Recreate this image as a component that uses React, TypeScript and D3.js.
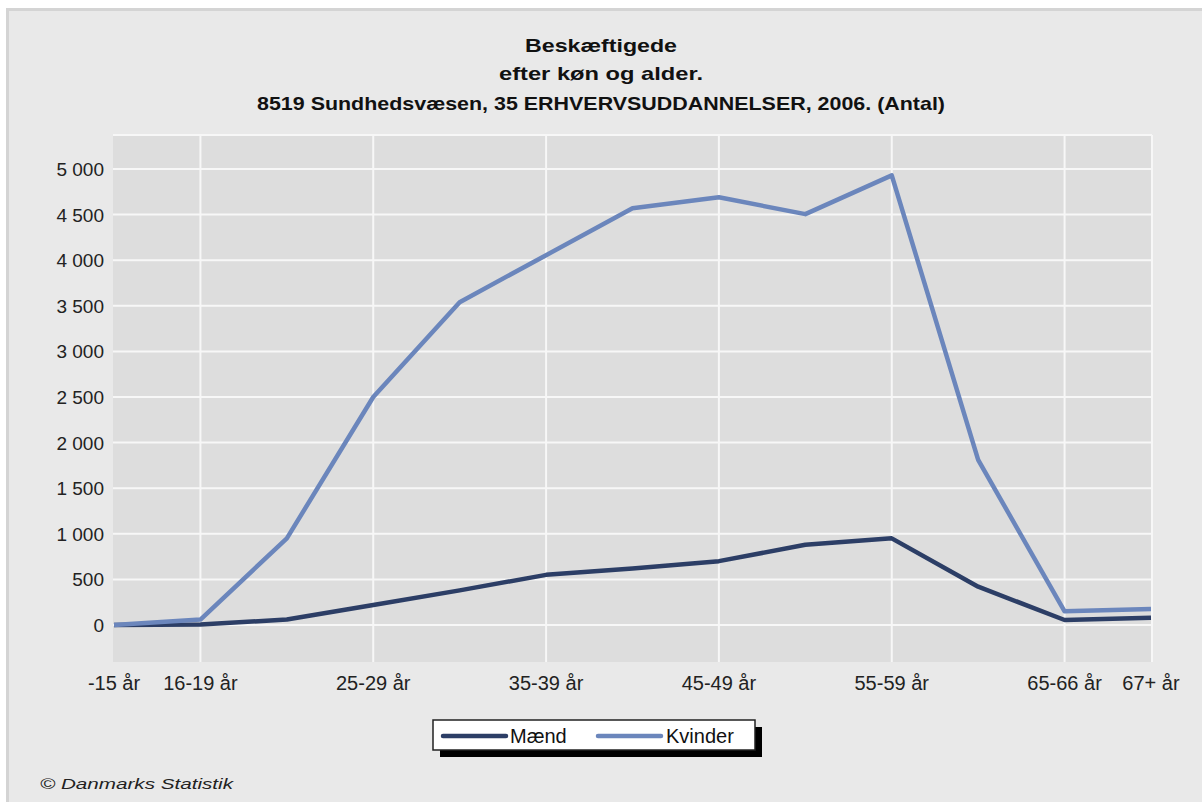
import React from "react";
import * as d3 from "d3";

const categories = ["-15 år", "16-19 år", "20-24 år", "25-29 år", "30-34 år", "35-39 år", "40-44 år", "45-49 år", "50-54 år", "55-59 år", "60-64 år", "65-66 år", "67+ år"];
const shownLabels = ["-15 år", "16-19 år", "25-29 år", "35-39 år", "45-49 år", "55-59 år", "65-66 år", "67+ år"];
const gridCategories = ["16-19 år", "25-29 år", "35-39 år", "45-49 år", "55-59 år", "65-66 år"];
const maend = [0, 5, 60, 220, 380, 550, 620, 700, 880, 950, 420, 55, 80];
const kvinder = [0, 60, 950, 2500, 3540, 4055, 4570, 4690, 4505, 4930, 1810, 150, 175];
const yTicks = [0, 500, 1000, 1500, 2000, 2500, 3000, 3500, 4000, 4500, 5000];
const titleLines = ["Beskæftigede", "efter køn og alder.", "8519 Sundhedsvæsen, 35 ERHVERVSUDDANNELSER, 2006. (Antal)"];
const titleWidths = [152, 204, 688];
const titleBaselines = [52, 80, 110];
const seriesNames = ["Mænd", "Kvinder"];
const seriesColors = ["#2c3e66", "#6b86bc"];

const W = 1202, H = 802;
const plot = { left: 113, right: 1152, top: 135, bottom: 662 };

export default function App() {
  const x = d3.scalePoint<string>().domain(categories).range([plot.left + 1, plot.right - 1]);
  const y = d3.scaleLinear().domain([0, 5000]).range([625, 169]);
  const line = d3.line<number>().x((_, i) => x(categories[i]) as number).y((d) => y(d));
  const fmt = (v: number) => d3.format(",")(v).replace(/,/g, " ");
  const font = "'Liberation Sans', Arial, sans-serif";
  const series = [maend, kvinder];

  return (
    <svg width={W} height={H} style={{ position: "absolute", left: 0, top: 0 }} fontFamily={font}>
      <rect x={0} y={0} width={W} height={H} fill="#ffffff" />
      <rect x={6} y={8} width={W - 6} height={H - 8} fill="#d4d4d4" />
      <rect x={9} y={11} width={W - 9} height={H - 11} fill="#e9e9e9" />
      {titleLines.map((t, i) => (
        <text key={i} x={601} y={titleBaselines[i]} textAnchor="middle" fontSize={19} fontWeight="bold" fill="#111"
          textLength={titleWidths[i]} lengthAdjust="spacingAndGlyphs">{t}</text>
      ))}
      <rect x={plot.left} y={plot.top} width={plot.right - plot.left} height={plot.bottom - plot.top} fill="#dddddd" />
      {yTicks.map((t) => (
        <line key={t} x1={plot.left} x2={plot.right} y1={y(t)} y2={y(t)} stroke="#f7f7f7" strokeWidth={2} />
      ))}
      {gridCategories.map((c) => (
        <line key={c} x1={x(c)} x2={x(c)} y1={plot.top} y2={plot.bottom} stroke="#f7f7f7" strokeWidth={2} />
      ))}
      <line x1={plot.left} x2={plot.right} y1={plot.top} y2={plot.top} stroke="#f7f7f7" strokeWidth={2} />
      <line x1={plot.right} x2={plot.right} y1={plot.top} y2={plot.bottom} stroke="#f7f7f7" strokeWidth={2} />
      {yTicks.map((t) => (
        <text key={t} x={104} y={y(t) + 7} textAnchor="end" fontSize={19} fill="#222">{fmt(t)}</text>
      ))}
      {shownLabels.map((c) => (
        <text key={c} x={x(c)} y={690} textAnchor="middle" fontSize={20} fill="#222">{c}</text>
      ))}
      {series.map((s, i) => (
        <path key={i} d={line(s) || ""} fill="none" stroke={seriesColors[i]} strokeWidth={4.5} strokeLinejoin="round" />
      ))}
      <rect x={440} y={727} width={322} height={30} fill="#000" />
      <rect x={433} y={720} width={322} height={30} fill="#fff" stroke="#222" strokeWidth={1.5} />
      {seriesNames.map((n, i) => (
        <g key={n}>
          <line x1={443 + i * 155} x2={506 + i * 155} y1={736} y2={736} stroke={seriesColors[i]} strokeWidth={4.5} strokeLinecap="round" />
          <text x={510 + i * 156} y={743} fontSize={20} fill="#111">{n}</text>
        </g>
      ))}
      <text x={40} y={789} fontSize={15} fontStyle="italic" fill="#222" textLength={193} lengthAdjust="spacingAndGlyphs">© Danmarks Statistik</text>
    </svg>
  );
}
